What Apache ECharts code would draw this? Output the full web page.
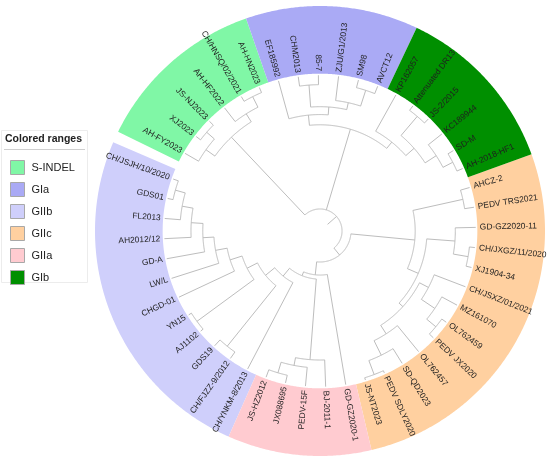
<!DOCTYPE html>
<html>
<head>
<meta charset="utf-8">
<script src="https://cdn.jsdelivr.net/npm/echarts@6/dist/echarts.min.js"></script>
<style>
  html, body { margin: 0; padding: 0; background: #fff; }
  #main { width: 550px; height: 465px; }
</style>
</head>
<body>
<div id="main"></div>
<script>
// leaves in clockwise order, starting after the gap at the upper left
var leaves = [
  'AH-FY2023', 'XJ2023', 'JS-NJ2023', 'AH-HF2022', 'CH/HNSQ/02/2021', 'AH-HN2023',
  'EF185992', 'CHM2013', '85-7', 'ZJU/G1/2013', 'SM98', 'AVCT12',
  'KP162057', 'Attenuated DR13', 'JS-2/2015', 'KC189944', 'SD-M', 'AH-2018-HF1',
  'AHCZ-2', 'PEDV TRS2021', 'GD-GZ2020-11', 'CH/JXGZ/11/2020', 'XJ1904-34',
  'CH/JSXZ/01/2021', 'MZ161070', 'OL762459', 'PEDV JX2020', 'OL762457',
  'SD-QD2023', 'PEDV SDLY2020', 'JS-NT2023',
  'GD-GZ2020-1', 'BJ-2011-1', 'PEDV-15F', 'JX088695', 'JS-HZ2012',
  'CH/YNKM-8/2013', 'CH/FJZZ-9/2012', 'GDS19', 'AJ1102', 'YN15', 'CHGD-01',
  'LW/L', 'GD-A', 'AH2012/12', 'FL2013', 'GDS01', 'CH/JSJH/10/2020'
];

var groupNames  = ['S-INDEL', 'GIa', 'GIIb', 'GIIc', 'GIIa', 'GIb'];
var groupColors = ['#80f7a6', '#aaaaf5', '#cfcffb', '#ffd0a0', '#ffcbd0', '#008f00'];
var groupFirst  = ['AH-FY2023', 'EF185992', 'CH/YNKM-8/2013', 'AHCZ-2', 'GD-GZ2020-1', 'KP162057'];
var groupLast   = ['AH-HN2023', 'AVCT12', 'CH/JSJH/10/2020', 'JS-NT2023', 'JS-HZ2012', 'AH-2018-HF1'];

// node depth from the root (leaf tips = 99)
var tipDepth = 99;
var treeNewick =
  '(((' +
    '((AH-FY2023,(XJ2023,JS-NJ2023):95.5):89,(AH-HF2022,(CH/HNSQ/02/2021,AH-HN2023):95.5):88):82,' +
    '((EF185992,((CHM2013,85-7):93,(ZJU/G1/2013,(SM98,AVCT12):94):83.5):79):74,' +
     '(KP162057,((Attenuated DR13,JS-2/2015):95.5,(KC189944,(SD-M,AH-2018-HF1):95):88):79.6):72.6):67.5,' +
    '(((AHCZ-2,PEDV TRS2021):93,((GD-GZ2020-11,(CH/JXGZ/11/2020,XJ1904-34):95.5):86,' +
      '((CH/JSXZ/01/2021,(MZ161070,(OL762459,PEDV JX2020):95.5):88):77.7,' +
       '(OL762457,(SD-QD2023,(PEDV SDLY2020,JS-NT2023):97.5):88):77.7):71.3):68):60.5,' +
     '(GD-GZ2020-1,((BJ-2011-1,(PEDV-15F,(JX088695,JS-HZ2012):94):87):82,' +
      '(CH/YNKM-8/2013,((CH/FJZZ-9/2012,GDS19):94,((AJ1102,YN15):97,(CHGD-01,(LW/L,(GD-A,(AH2012/12,' +
      '(FL2013,(GDS01,CH/JSJH/10/2020):95.5):89):82):74.5):67.5):60):52):44.6):37):30.6):28):19.7' +
  '):14):6.4)';

function parseNewick(s) {
  var pos = 0;
  function node() {
    var n = { children: [] };
    if (s[pos] === '(') {
      pos++;
      n.children.push(node());
      while (s[pos] === ',') { pos++; n.children.push(node()); }
      pos++;
    } else {
      var st = pos;
      while (pos < s.length && ',():'.indexOf(s[pos]) < 0) pos++;
      n.name = s.slice(st, pos);
    }
    if (s[pos] === ':') {
      pos++;
      var st2 = pos;
      while (pos < s.length && ',()'.indexOf(s[pos]) < 0) pos++;
      n.depth = parseFloat(s.slice(st2, pos));
    }
    return n;
  }
  return node();
}

var root = parseNewick(treeNewick).children[0];

function layout(n) {
  if (!n.children.length) {
    n.a = leaves.indexOf(n.name);
    n.depth = tipDepth;
    return;
  }
  n.children.forEach(layout);
  n.a = (n.children[0].a + n.children[n.children.length - 1].a) / 2;
}
layout(root);

// [kind, ...]: kind 0 = radial [0, angle, depthFrom, depthTo], kind 1 = arc [1, depth, angleFrom, angleTo]
var edges = [];
function collect(n) {
  if (!n.children.length) return;
  var first = n.children[0], last = n.children[n.children.length - 1];
  if (last.a > first.a) edges.push([1, n.depth, first.a, last.a]);
  n.children.forEach(function (c) {
    edges.push([0, c.a, n.depth, c.depth]);
    collect(c);
  });
}
collect(root);

var ringIn = 100, ringOut = 143, labelDepth = 101.6;

var chart = echarts.init(document.getElementById('main'));

function arcPoints(api, r, a0, a1) {
  var pts = [];
  var n = Math.max(2, Math.ceil(Math.abs(a1 - a0) / 0.05));
  for (var i = 0; i <= n; i++) pts.push(api.coord([r, a0 + (a1 - a0) * i / n]));
  return pts;
}

var series = [];

groupNames.forEach(function (g, k) {
  series.push({
    type: 'custom',
    name: g,
    coordinateSystem: 'polar',
    silent: true,
    z: 1,
    itemStyle: { color: groupColors[k] },
    data: [[leaves.indexOf(groupFirst[k]) - 0.5, leaves.indexOf(groupLast[k]) + 0.5]],
    renderItem: function (params, api) {
      var a0 = api.value(0), a1 = api.value(1);
      var pts = arcPoints(api, ringOut, a0, a1).concat(arcPoints(api, ringIn, a1, a0));
      return { type: 'polygon', shape: { points: pts }, style: { fill: groupColors[k], stroke: null } };
    }
  });
});

series.push({
  type: 'custom',
  name: 'tree',
  coordinateSystem: 'polar',
  silent: true,
  z: 2,
  data: edges,
  renderItem: function (params, api) {
    var pts;
    if (api.value(0) === 0) {
      pts = [api.coord([api.value(2), api.value(1)]), api.coord([api.value(3), api.value(1)])];
    } else {
      pts = arcPoints(api, api.value(1), api.value(2), api.value(3));
    }
    return { type: 'polyline', shape: { points: pts }, style: { stroke: '#bdbdbd', lineWidth: 1, fill: null } };
  }
});

series.push({
  type: 'custom',
  name: 'labels',
  coordinateSystem: 'polar',
  silent: true,
  z: 3,
  data: leaves.map(function (d, i) { return [i]; }),
  renderItem: function (params, api) {
    var p = api.coord([labelDepth, api.value(0)]);
    var cs = params.coordSys;
    var phi = Math.atan2(p[1] - cs.cy, p[0] - cs.cx);
    var right = p[0] >= cs.cx - 0.01;
    return {
      type: 'text',
      x: p[0],
      y: p[1],
      rotation: right ? -phi : Math.PI - phi,
      style: {
        text: leaves[params.dataIndex],
        x: 0, y: 0,
        align: right ? 'left' : 'right',
        verticalAlign: 'middle',
        fontSize: 8.4,
        fontFamily: 'Liberation Sans, Arial, sans-serif',
        fill: '#1e1e1e'
      }
    };
  }
});

chart.setOption({
  backgroundColor: '#fff',
  animation: false,
  title: {
    text: 'Colored ranges',
    left: 5,
    top: 134,
    padding: 0,
    textStyle: { fontSize: 10.5, fontWeight: 'bold', color: '#222', fontFamily: 'Liberation Sans, Arial, sans-serif' }
  },
  legend: {
    orient: 'vertical',
    left: 5,
    top: 155,
    itemWidth: 14,
    itemHeight: 14,
    itemGap: 7,
    icon: 'rect',
    selectedMode: false,
    textStyle: { fontSize: 11, color: '#222', fontFamily: 'Liberation Sans, Arial, sans-serif', padding: [0, 0, 0, 2] },
    data: groupNames.map(function (g, k) {
      return { name: g, itemStyle: { color: groupColors[k], borderColor: '#a8a8a8', borderWidth: 1 } };
    })
  },
  graphic: [
    { type: 'rect', shape: { x: 1.5, y: 130.5, width: 86, height: 152 }, style: { fill: null, stroke: '#ececec', lineWidth: 1 }, z: 0 },
    { type: 'line', shape: { x1: 4, y1: 149.5, x2: 85, y2: 149.5 }, style: { stroke: '#cfcfcf', lineWidth: 1 } }
  ],
  polar: { center: [320, 231], radius: 225 },
  angleAxis: {
    type: 'value',
    min: -0.7,
    max: 47.7,
    startAngle: 155.3,
    clockwise: true,
    show: false
  },
  radiusAxis: { type: 'value', min: 0, max: ringOut, show: false },
  series: series
});
</script>
</body>
</html>
